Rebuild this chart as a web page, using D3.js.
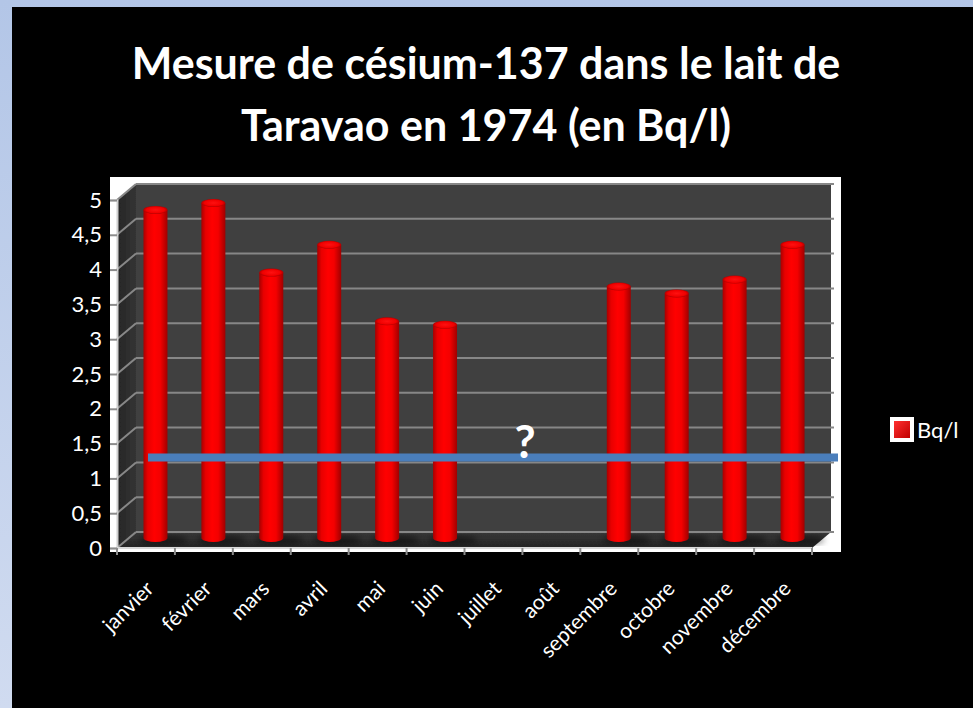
<!DOCTYPE html>
<html>

<head>
    <meta charset="utf-8">
    <style>
        body { margin: 0; background: #000; }
        svg { display: block; }
        text { font-family: Lato, "Open Sans", sans-serif; }
    </style>
</head>

<body>
    <script src="https://d3js.org/d3.v7.min.js"></script>
    <div id="chart"></div>
    <script>
        // data
        const months = ["janvier", "février", "mars", "avril", "mai", "juin",
            "juillet", "août", "septembre", "octobre", "novembre", "décembre"]
        const values = [4.8, 4.9, 3.9, 4.3, 3.2, 3.15, null, null, 3.7, 3.6, 3.8, 4.3]
        const yTicks = [0, 0.5, 1, 1.5, 2, 2.5, 3, 3.5, 4, 4.5, 5]
        const seriesName = "Bq/l"
        const titleLines = ["Mesure de césium-137 dans le lait de", "Taravao en 1974 (en Bq/l)"]
        const markLevel = 1.3
        const markText = "?"

        const width = 973
        const height = 708
        // 3d depth offset of the walls
        const dx = 19
        const dy = -16

        const fmt = d3.formatLocale({ decimal: ",", thousands: " ", grouping: [3], currency: ["", ""] }).format("~g")

        const svg = d3.select("#chart").append("svg")
            .attr("width", width).attr("height", height)

        const defs = svg.append("defs")

        const frame = defs.append("linearGradient").attr("id", "frame")
            .attr("x1", 0).attr("y1", 0).attr("x2", 0).attr("y2", 1)
        frame.append("stop").attr("offset", 0).attr("stop-color", "#b3c6e7")
        frame.append("stop").attr("offset", 1).attr("stop-color", "#d0dbf0")

        const cyl = defs.append("linearGradient").attr("id", "cyl")
            .attr("x1", 0).attr("y1", 0).attr("x2", 1).attr("y2", 0)
        cyl.append("stop").attr("offset", 0).attr("stop-color", "#a80000")
        cyl.append("stop").attr("offset", 0.18).attr("stop-color", "#e80000")
        cyl.append("stop").attr("offset", 0.45).attr("stop-color", "#ff0000")
        cyl.append("stop").attr("offset", 0.7).attr("stop-color", "#f40000")
        cyl.append("stop").attr("offset", 1).attr("stop-color", "#a00000")

        const capG = defs.append("radialGradient").attr("id", "cap")
        capG.append("stop").attr("offset", 0).attr("stop-color", "#ff1010")
        capG.append("stop").attr("offset", 0.75).attr("stop-color", "#f00000")
        capG.append("stop").attr("offset", 1).attr("stop-color", "#b00000")

        const side = defs.append("linearGradient").attr("id", "side")
            .attr("x1", 0).attr("y1", 0).attr("x2", 1).attr("y2", 0)
        side.append("stop").attr("offset", 0).attr("stop-color", "#262626")
        side.append("stop").attr("offset", 1).attr("stop-color", "#343434")

        const floorG = defs.append("linearGradient").attr("id", "floor")
            .attr("x1", 0).attr("y1", 1).attr("x2", 0).attr("y2", 0)
        floorG.append("stop").attr("offset", 0).attr("stop-color", "#242424")
        floorG.append("stop").attr("offset", 1).attr("stop-color", "#383838")

        const legendG = defs.append("linearGradient").attr("id", "leg")
            .attr("x1", 0).attr("y1", 0).attr("x2", 1).attr("y2", 1)
        legendG.append("stop").attr("offset", 0).attr("stop-color", "#ff3030")
        legendG.append("stop").attr("offset", 1).attr("stop-color", "#c00000")

        defs.append("filter").attr("id", "soft")
            .append("feGaussianBlur").attr("stdDeviation", 0.6)
        defs.append("filter").attr("id", "shadow").attr("x", "-50%").attr("width", "200%")
            .append("feGaussianBlur").attr("stdDeviation", 3)

        // background
        svg.append("rect").attr("width", width).attr("height", height).attr("fill", "url(#frame)")
        svg.append("rect").attr("x", 12).attr("y", 7).attr("width", width - 12).attr("height", height - 7)
            .attr("fill", "#000")

        // title
        svg.append("text")
            .attr("x", 486).attr("y", 79)
            .attr("text-anchor", "middle")
            .attr("fill", "#fff")
            .attr("font-size", 43)
            .attr("font-weight", "bold")
            .selectAll("tspan")
            .data(titleLines)
            .enter()
            .append("tspan")
            .attr("x", 486)
            .attr("dy", (d, i) => i === 0 ? 0 : 62)
            .text(d => d)

        const x = d3.scaleBand().domain(months).range([117, 812])
        const y = d3.scaleLinear().domain([0, 5]).range([548, 200])

        const [x0, x1] = x.range()
        const yBot = y(0)
        const yTop = y(5)

        // white plot panel
        svg.append("rect").attr("x", 110).attr("y", 177).attr("width", 731).attr("height", 375)
            .attr("fill", "#fff")

        const walls = svg.append("g").attr("filter", "url(#soft)")

        walls.append("rect")
            .attr("x", x0 + dx).attr("y", yTop + dy)
            .attr("width", x1 - x0).attr("height", yBot - yTop)
            .attr("fill", "#404040")

        walls.append("polygon")
            .attr("points", [[x0, yBot], [x0, yTop], [x0 + dx, yTop + dy], [x0 + dx, yBot + dy]].join(" "))
            .attr("fill", "url(#side)")

        walls.append("polygon")
            .attr("points", [[x0, yBot], [x1, yBot], [x1 + dx, yBot + dy], [x0 + dx, yBot + dy]].join(" "))
            .attr("fill", "url(#floor)")

        // gridlines on back wall and side wall
        walls.selectAll(".grid")
            .data(yTicks)
            .enter()
            .append("line")
            .attr("class", "grid")
            .attr("x1", x0 + dx).attr("x2", x1 + dx + 3)
            .attr("y1", d => y(d) + dy).attr("y2", d => y(d) + dy)
            .attr("stroke", "#878787").attr("stroke-width", 2)

        walls.selectAll(".slant")
            .data(yTicks)
            .enter()
            .append("line")
            .attr("class", "slant")
            .attr("x1", x0).attr("x2", x0 + dx)
            .attr("y1", d => y(d)).attr("y2", d => y(d) + dy)
            .attr("stroke", "#878787").attr("stroke-width", 2)

        // bars (cylinders), sitting at half depth
        const bw = 24
        const ry = 4
        const bars = svg.append("g")
            .selectAll("g")
            .data(months.map((m, i) => ({ m, v: values[i] })).filter(d => d.v != null))
            .enter()
            .append("g")

        const cx = d => x(d.m) + x.bandwidth() / 2 + dx / 2

        bars.append("ellipse")
            .attr("cx", d => cx(d) + 8)
            .attr("cy", yBot + dy / 2)
            .attr("rx", 24).attr("ry", 5)
            .attr("fill", "#000").attr("opacity", 0.45)
            .attr("filter", "url(#shadow)")

        bars.append("path")
            .attr("d", d => {
                const top = y(d.v) + dy / 2 + ry
                const bot = yBot + dy / 2 - 2
                const l = cx(d) - bw / 2
                const r = cx(d) + bw / 2
                return `M${l},${top} L${l},${bot} A${bw / 2},${ry} 0 0 0 ${r},${bot} L${r},${top} Z`
            })
            .attr("fill", "url(#cyl)")

        bars.append("ellipse")
            .attr("cx", cx)
            .attr("cy", d => y(d.v) + dy / 2 + ry)
            .attr("rx", bw / 2).attr("ry", ry)
            .attr("fill", "url(#cap)")

        // axes
        const yAxis = svg.append("g")
            .attr("transform", "translate(" + x0 + ",0)")
            .call(d3.axisLeft(y).tickValues(yTicks).tickFormat(fmt).tickSize(7).tickPadding(8))
        yAxis.select(".domain").attr("stroke", "#d0d0d0").attr("stroke-width", 2)
        yAxis.selectAll(".tick line").attr("stroke", "#8c8c8c").attr("stroke-width", 2)
        yAxis.selectAll("text").attr("fill", "#fff").attr("font-size", 22)
            .attr("font-family", "Lato, 'Open Sans', sans-serif")

        const xAxis = svg.append("g")
            .attr("transform", "translate(0," + yBot + ")")
        xAxis.append("line")
            .attr("x1", x0).attr("x2", x1)
            .attr("stroke", "#d9d9d9").attr("stroke-width", 2)
        xAxis.selectAll(".xtick")
            .data(d3.range(months.length + 1))
            .enter()
            .append("line")
            .attr("class", "xtick")
            .attr("x1", i => x0 + i * x.step()).attr("x2", i => x0 + i * x.step())
            .attr("y1", 0).attr("y2", 7)
            .attr("stroke", "#8c8c8c").attr("stroke-width", 2)
        xAxis.selectAll(".xlabel")
            .data(months)
            .enter()
            .append("text")
            .attr("class", "xlabel")
            .attr("transform", d => "translate(" + (x(d) + x.bandwidth() / 2 + 9) + ",42) rotate(-45)")
            .attr("text-anchor", "end")
            .attr("fill", "#fff")
            .attr("font-size", 21)
            .text(d => d)

        // annotation line and question mark
        svg.append("line")
            .attr("x1", 148).attr("x2", 838)
            .attr("y1", y(markLevel)).attr("y2", y(markLevel))
            .attr("stroke", "#4a7ebb").attr("stroke-width", 8)
        svg.append("text")
            .attr("x", 525).attr("y", y(markLevel))
            .attr("text-anchor", "middle")
            .attr("fill", "#fff")
            .attr("font-size", 46)
            .attr("font-weight", "bold")
            .text(markText)

        // legend
        const legend = svg.append("g").attr("transform", "translate(890,417)")
        legend.append("rect").attr("width", 24).attr("height", 25).attr("fill", "#fff")
        legend.append("rect").attr("x", 4).attr("y", 4).attr("width", 16).attr("height", 17)
            .attr("fill", "url(#leg)")
        legend.append("text").attr("x", 27).attr("y", 21)
            .attr("fill", "#fff").attr("font-size", 22)
            .text(seriesName)
    </script>
</body>

</html>
